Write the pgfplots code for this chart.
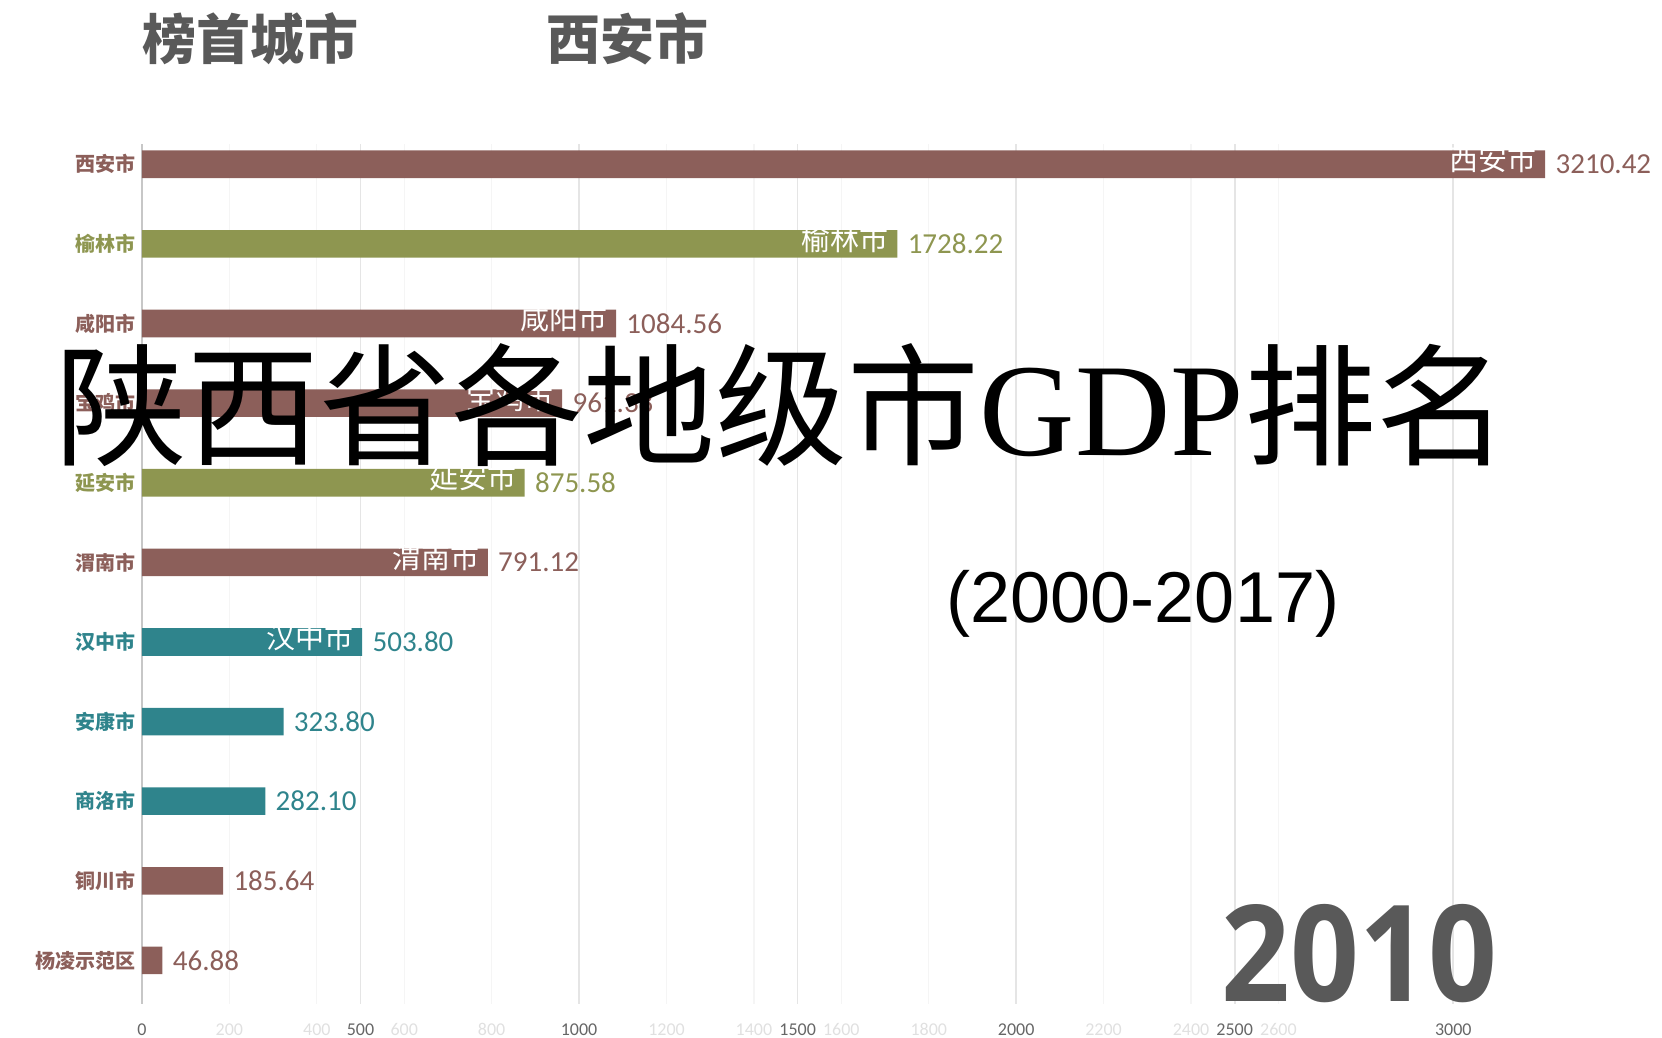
\documentclass[border=0pt]{standalone}
\usepackage{fontspec}
\usepackage{pgfplots}
\pgfplotsset{compat=1.18}
\setmainfont{Noto Sans CJK SC}
\newfontfamily\numfont{Carlito}
\newfontfamily\serifLat{Liberation Serif}
\newfontfamily\arial{Liberation Sans}
\newfontfamily\yearfont[FakeStretch=0.9]{Open Sans}
\IfFontExistsTF{AR PL UKai CN}{\newfontfamily\kai{AR PL UKai CN}}{%
  \IfFontExistsTF{KaiTi}{\newfontfamily\kai{KaiTi}}{%
    \newfontfamily\kai{Noto Sans CJK SC}}}
\definecolor{cbrown}{HTML}{8C5F5A}
\definecolor{colive}{HTML}{8E9650}
\definecolor{cteal}{HTML}{2F848C}
\definecolor{cgrey}{HTML}{595959}
\begin{document}
\begin{tikzpicture}
\path[use as bounding box] (0,0) rectangle (831pt,519pt);
\begin{axis}[
  at={(71pt,446.8pt)}, anchor=north west,
  scale only axis, width=721.2pt, height=429.9pt,
  xmin=0, xmax=3300, ymin=-0.25, ymax=10.55, y dir=reverse,
  clip=false,
  axis line style={draw=none},
  major tick length=0pt,
  tick style={draw=none},
  xtick={0,500,...,3000},
  xmajorgrids,
  grid style={draw=black!10, line width=0.8pt},
  extra x ticks={200,400,600,800,1200,1400,1600,1800,2200,2400,2600},
  extra x tick style={grid style={draw=black!4, line width=0.6pt}, xticklabel style={text=black!12}},
  /pgf/number format/1000 sep={},
  /pgf/number format/assume math mode=true,
  xticklabel style={font=\numfont\fontsize{9}{9}\selectfont, text=black!60, inner sep=0pt, yshift=-9.5pt},
  ytick={0,...,10},
  yticklabels={\textcolor{cbrown}{西安市},\textcolor{colive}{榆林市},\textcolor{cbrown}{咸阳市},\textcolor{cbrown}{宝鸡市},\textcolor{colive}{延安市},\textcolor{cbrown}{渭南市},\textcolor{cteal}{汉中市},\textcolor{cteal}{安康市},\textcolor{cteal}{商洛市},\textcolor{cbrown}{铜川市},\textcolor{cbrown}{杨凌示范区}},
  yticklabel style={font=\bfseries\fontsize{10}{10}\selectfont, inner sep=0pt, xshift=-3pt},
  valstyle/.style={xbar, bar width=13.8pt, bar shift=0pt, draw=none, fill=#1,
    point meta=x,
    nodes near coords,
    /pgf/number format/.cd, fixed, fixed zerofill, precision=2, 1000 sep={}, assume math mode=true, /pgfplots/.cd,
    nodes near coords style={anchor=west, inner sep=0pt, xshift=5pt, text=#1, font=\numfont\fontsize{14.5}{14.5}\selectfont}},
]
\draw[black!22, line width=1.4pt] (axis cs:0,-0.25) -- (axis cs:0,10.55);
\addplot[valstyle=cbrown] coordinates {(3210.42,0) (1084.56,2) (961.38,3) (791.12,5) (185.64,9) (46.88,10)};
\addplot[valstyle=colive] coordinates {(1728.22,1) (875.58,4)};
\addplot[valstyle=cteal] coordinates {(503.80,6) (323.80,7) (282.10,8)};
\addplot[draw=none, mark=none, point meta=explicit symbolic, nodes near coords,
  nodes near coords style={anchor=east, inner sep=0pt, xshift=-4pt, yshift=2.5pt, text=white, font=\fontsize{14.5}{14.5}\selectfont}]
  coordinates {(3210.42,0) [西安市] (1728.22,1) [榆林市] (1084.56,2) [咸阳市] (961.38,3) [宝鸡市] (875.58,4) [延安市] (791.12,5) [渭南市] (503.80,6) [汉中市]};
\end{axis}
\node[anchor=west, inner sep=0pt, text=cgrey, font=\bfseries\fontsize{27}{27}\selectfont] at (71pt,499.5pt) {榜首城市};
\node[anchor=west, inner sep=0pt, text=cgrey, font=\bfseries\fontsize{27}{27}\selectfont] at (273pt,499.5pt) {西安市};
\node[inner sep=0pt, text=black, font=\kai\fontsize{66}{66}\selectfont] at (391pt,316.5pt) {陕西省各地级市{\serifLat GDP}排名};
\node[inner sep=0pt, text=black, font=\arial\fontsize{36}{36}\selectfont] at (571.5pt,217pt) {(2000-2017)};
\node[inner sep=0pt, text=cgrey, font=\yearfont\bfseries\fontsize{67}{67}\selectfont] at (679.75pt,42pt) {2010};
\end{tikzpicture}
\end{document}
